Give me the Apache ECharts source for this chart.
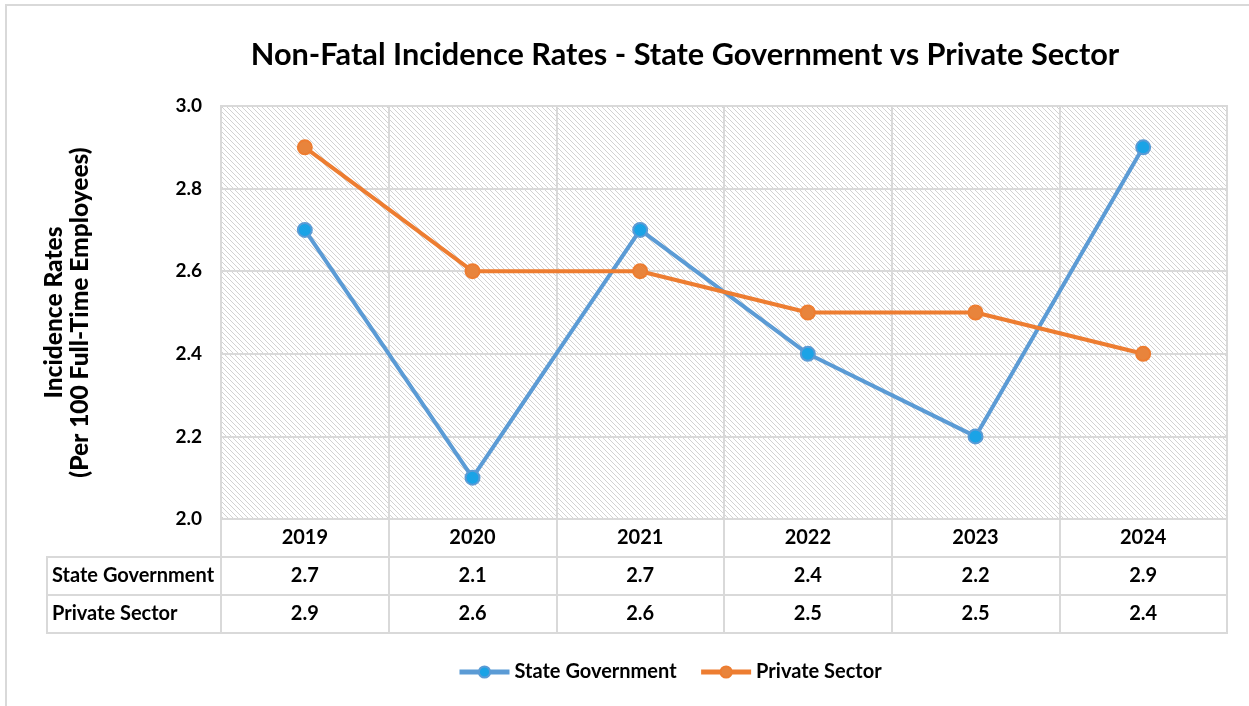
<!DOCTYPE html>
<html>
<head>
<meta charset="utf-8">
<script src="https://cdn.jsdelivr.net/npm/echarts@6/dist/echarts.min.js"></script>
<style>
html, body { margin: 0; padding: 0; background: #fff; }
#main { width: 1249px; height: 706px; }
</style>
</head>
<body>
<div id="main"></div>
<script>
// data
var years = ['2019', '2020', '2021', '2022', '2023', '2024'];
var stateGov = [2.7, 2.1, 2.7, 2.4, 2.2, 2.9];
var privateSector = [2.9, 2.6, 2.6, 2.5, 2.5, 2.4];
var seriesNames = ['State Government', 'Private Sector'];
var yMin = 2.0, yMax = 3.0, yStep = 0.2;

// layout
var FONT = 'Lato';
var plotLeft = 221, plotRight = 22, plotTop = 106, plotBottom = 519, rowH = 38;
var lineGray = '#d9d9d9';

// hatch pattern for plot background
var tile = document.createElement('canvas');
tile.width = 5; tile.height = 5;
var ctx = tile.getContext('2d');
ctx.fillStyle = '#fff';
ctx.fillRect(0, 0, 5, 5);
ctx.strokeStyle = '#d2d2d2';
ctx.lineWidth = 1;
ctx.beginPath();
ctx.moveTo(-1, -1); ctx.lineTo(6, 6);
ctx.moveTo(-1, 4); ctx.lineTo(1, 6);
ctx.moveTo(4, -1); ctx.lineTo(6, 1);
ctx.stroke();

var myChart = echarts.init(document.getElementById('main'));

var tableRows = [years, stateGov.map(function (v) { return v.toFixed(1); }), privateSector.map(function (v) { return v.toFixed(1); })];

var grids = [{
    show: true,
    left: plotLeft, right: plotRight, top: plotTop, height: plotBottom - plotTop,
    backgroundColor: { image: tile, repeat: 'repeat' },
    borderColor: lineGray, borderWidth: 2
}];
var xAxes = [{
    type: 'category', gridIndex: 0, data: years, boundaryGap: true,
    axisLine: { show: false }, axisTick: { show: false }, axisLabel: { show: false },
    splitLine: { show: true, lineStyle: { color: lineGray, width: 2 } }
}];
var yAxes = [{
    type: 'value', gridIndex: 0, min: yMin, max: yMax, interval: yStep,
    axisLine: { show: false }, axisTick: { show: false },
    axisLabel: { fontFamily: FONT, fontWeight: 'bold', fontSize: 19, color: '#000', margin: 19,
        formatter: function (v) { return v.toFixed(1); } },
    splitLine: { show: true, lineStyle: { color: lineGray, width: 2 } }
}];

// data table rows under the plot
tableRows.forEach(function (row, r) {
    grids.push({
        show: true, left: plotLeft, right: plotRight, top: plotBottom + r * rowH, height: rowH,
        borderColor: lineGray, borderWidth: 2
    });
    xAxes.push({
        type: 'category', gridIndex: r + 1, data: years, boundaryGap: true,
        axisLine: { show: false }, axisTick: { show: false },
        axisLabel: {
            inside: true, margin: 19, verticalAlign: 'middle',
            fontFamily: FONT, fontWeight: 'bold', fontSize: 20, color: '#000',
            formatter: function (v, i) { return row[i]; }
        },
        splitLine: { show: true, lineStyle: { color: lineGray, width: 2 } }
    });
    yAxes.push({ type: 'value', gridIndex: r + 1, show: false, splitLine: { show: false } });
});

var graphics = [{
    type: 'rect', z: -10, silent: true,
    shape: { x: 6, y: 5, width: 1400, height: 900 },
    style: { fill: 'none', stroke: lineGray, lineWidth: 2 }
}, {
    // y axis title
    type: 'text', silent: true, x: 67, y: (plotTop + plotBottom) / 2, rotation: Math.PI / 2,
    style: {
        text: 'Incidence Rates\n(Per 100 Full-Time Employees)',
        fontFamily: FONT, fontWeight: 900, fontSize: 24.5, lineHeight: 26, fill: '#000',
        align: 'center', verticalAlign: 'middle'
    }
}];
seriesNames.forEach(function (n, i) {
    var y = plotBottom + (i + 1) * rowH;
    graphics.push({
        type: 'rect', silent: true,
        shape: { x: 47, y: y, width: plotLeft - 47, height: rowH },
        style: { fill: 'none', stroke: lineGray, lineWidth: 2 }
    });
    graphics.push({
        type: 'text', silent: true, x: 52, y: y + rowH / 2,
        style: { text: n, fontFamily: FONT, fontWeight: 'bold', fontSize: 20, fill: '#000', verticalAlign: 'middle' }
    });
});

var options = {
    backgroundColor: '#fff',
    title: {
        text: 'Non-Fatal Incidence Rates - State Government vs Private Sector',
        left: 680, top: 35, textAlign: 'center',
        textStyle: { fontFamily: FONT, fontWeight: 'bold', fontSize: 30.7, color: '#000' }
    },
    legend: {
        data: seriesNames, bottom: 19, left: 452, itemWidth: 50, itemHeight: 14, itemGap: 22,
        lineStyle: { width: 5 },
        textStyle: { fontFamily: FONT, fontWeight: 'bold', fontSize: 20, color: '#000' }
    },
    grid: grids,
    xAxis: xAxes,
    yAxis: yAxes,
    graphic: graphics,
    series: [{
        name: seriesNames[0], type: 'line', xAxisIndex: 0, yAxisIndex: 0, data: stateGov,
        symbol: 'circle', symbolSize: 14,
        lineStyle: { color: '#5B9BD5', width: 4 },
        itemStyle: { color: '#1AA3E6', borderColor: '#5B9BD5', borderWidth: 2 }
    }, {
        name: seriesNames[1], type: 'line', xAxisIndex: 0, yAxisIndex: 0, data: privateSector,
        symbol: 'circle', symbolSize: 14,
        lineStyle: { color: '#ED7D31', width: 4 },
        itemStyle: { color: '#E8843C', borderColor: '#ED7D31', borderWidth: 2 }
    }]
};

myChart.setOption(options);
</script>
</body>
</html>
